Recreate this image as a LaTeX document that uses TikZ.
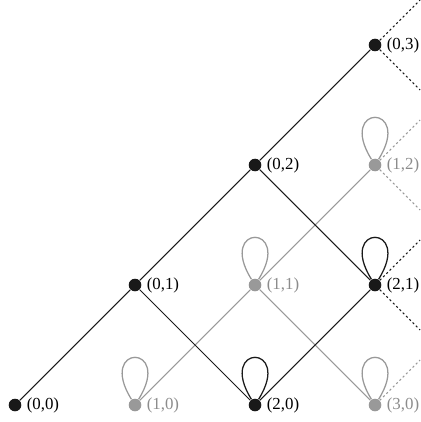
\documentclass[tikz,border=0pt]{standalone}
\usepackage{fontspec}
\setmainfont{Liberation Serif}

\begin{document}
\begin{tikzpicture}[
    bdot/.style={circle, fill=black!90, inner sep=0pt, minimum size=0.21cm},
    gdot/.style={circle, fill=black!40, inner sep=0pt, minimum size=0.21cm},
    blab/.style={inner sep=1pt, label distance=1.2pt, font=\fontsize{8}{9.6}\selectfont},
    glab/.style={blab, text=black!45},
    bline/.style={draw=black!90, line width=0.5pt},
    gline/.style={draw=black!40, line width=0.5pt},
    bloop/.style={draw=black!90, line width=0.6pt, loop, out=122, in=58, min distance=1.1cm},
    gloop/.style={draw=black!40, line width=0.6pt, loop, out=122, in=58, min distance=1.1cm},
    bdots/.style={draw=black!90, line width=0.5pt, dash pattern=on 1pt off 1.2pt},
    gdots/.style={draw=black!40, line width=0.5pt, dash pattern=on 1pt off 1.2pt}]
    \useasboundingbox (-0.25,-0.283) rectangle (6.75,6.75);

    % vertices (i,j) sit at x = 2(i+j), y = 2j
    \node[bdot, label={[blab]right:(0,0)}] (n00) at (0,0) {};
    \node[gdot, label={[glab]right:(1,0)}] (n10) at (2,0) {};
    \node[bdot, label={[blab]right:(2,0)}] (n20) at (4,0) {};
    \node[gdot, label={[glab]right:(3,0)}] (n30) at (6,0) {};
    \node[bdot, label={[blab]right:(0,1)}] (n01) at (2,2) {};
    \node[gdot, label={[glab]right:(1,1)}] (n11) at (4,2) {};
    \node[bdot, label={[blab]right:(2,1)}] (n21) at (6,2) {};
    \node[bdot, label={[blab]right:(0,2)}] (n02) at (4,4) {};
    \node[gdot, label={[glab]right:(1,2)}] (n12) at (6,4) {};
    \node[bdot, label={[blab]right:(0,3)}] (n03) at (6,6) {};

    % loose ends running off to the right
    \coordinate (u03) at (6.75,6.75);
    \coordinate (d03) at (6.75,5.25);
    \coordinate (u12) at (6.75,4.75);
    \coordinate (d12) at (6.75,3.25);
    \coordinate (u21) at (6.75,2.75);
    \coordinate (d21) at (6.75,1.25);
    \coordinate (u30) at (6.75,0.75);

    % grey part
    \path[gline] (n10) -- (n11) -- (n12);
    \path[gline] (n11) -- (n30);
    \path (n10) edge[gloop] (n10);
    \path (n11) edge[gloop] (n11);
    \path (n12) edge[gloop] (n12);
    \path (n30) edge[gloop] (n30);
    \path[gdots] (n12) -- (u12);
    \path[gdots] (n12) -- (d12);
    \path[gdots] (n30) -- (u30);

    % black part
    \path[bline] (n00) -- (n01) -- (n02) -- (n03);
    \path[bline] (n01) -- (n20) -- (n21);
    \path[bline] (n02) -- (n21);
    \path (n20) edge[bloop] (n20);
    \path (n21) edge[bloop] (n21);
    \path[bdots] (n03) -- (u03);
    \path[bdots] (n03) -- (d03);
    \path[bdots] (n21) -- (u21);
    \path[bdots] (n21) -- (d21);
\end{tikzpicture}
\end{document}
